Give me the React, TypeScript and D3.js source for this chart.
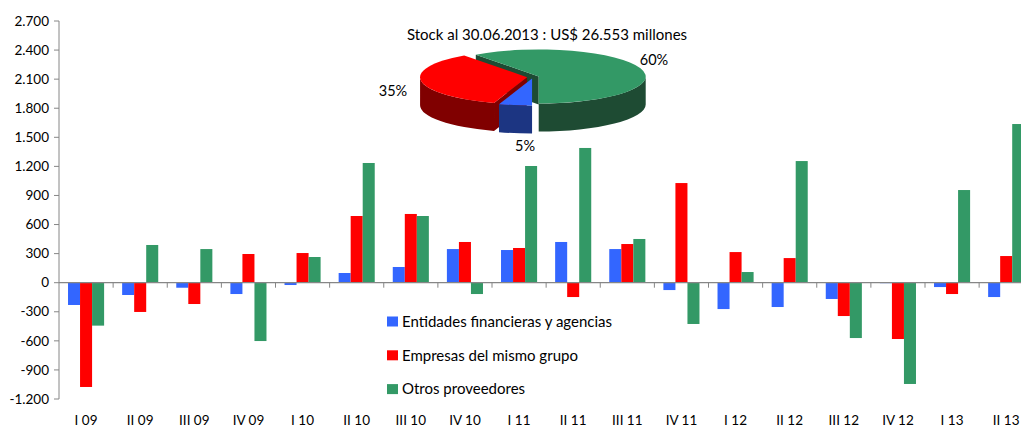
import React from "react";
import * as d3 from "d3";

const categories = ["I 09","II 09","III 09","IV 09","I 10","II 10","III 10","IV 10","I 11","II 11","III 11","IV 11","I 12","II 12","III 12","IV 12","I 13","II 13"];
const entidades = [-230,-127,-52,-117,-24,100,162,347,337,420,347,-76,-272,-251,-168,-5,-45,-148];
const empresas = [-1076,-302,-220,296,306,688,709,420,358,-148,399,1028,316,254,-344,-581,-117,275];
const otros = [-443,389,347,-602,265,1235,688,-117,1204,1390,451,-426,110,1255,-571,-1045,956,1637];
const seriesNames = ["Entidades financieras y agencias","Empresas del mismo grupo","Otros proveedores"];
const yTicks = [-1200,-900,-600,-300,0,300,600,900,1200,1500,1800,2100,2400,2700];
const pieTitle = "Stock al 30.06.2013 : US$ 26.553 millones";
const pieShares = [5,35,60];
const pieLabels = ["5%","35%","60%"];

const topColors = ["#3366FF","#FF0000","#339966"];
const sideColors = ["#1C3582","#800000","#1E4B33"];
const FONT = "Lato, 'Open Sans', sans-serif";
const FS = 13.5;
const FS_BIG = 15;

const W = 1021, H = 427;
const plotLeft = 59, plotTop = 21, plotBottom = 399;
const step = 54.125;

export default function App() {
  const seriesVals = [entidades, empresas, otros];
  const y = d3.scaleLinear().domain([-1200, 2700]).range([plotBottom, plotTop]);
  const pad = 1/3;
  const x = d3.scaleBand<string>().domain(categories)
    .range([plotLeft, plotLeft + step * categories.length])
    .paddingInner(pad).paddingOuter(pad/2);
  const xs = d3.scaleBand<number>().domain([0,1,2]).range([0, x.bandwidth()]);
  const locale = d3.formatLocale({decimal: ",", thousands: ".", grouping: [3], currency: ["",""], minus: "-"});
  const fmt = locale.format(",");
  const y0 = y(0);
  const axisColor = "#868686";

  // pie
  const cx = 533, cy = 77, rx = 107, ry = 27, depth = 28, explode = 6;
  const arcs = d3.pie<number>().sort(null).startAngle(Math.PI).endAngle(3*Math.PI)(pieShares);
  const slices = arcs.map((a, i) => {
    const m = (a.startAngle + a.endAngle) / 2;
    const ox = cx + explode * Math.sin(m);
    const oy = cy - explode * Math.cos(m) * (ry / rx);
    return { a0: a.startAngle, a1: a.endAngle, m, ox, oy, i };
  });
  const pt = (s: any, a: number, dz = 0) => [s.ox + rx * Math.sin(a), s.oy - ry * Math.cos(a) + dz];
  const topPath = (s: any) => {
    const p0 = pt(s, s.a0), p1 = pt(s, s.a1);
    const large = s.a1 - s.a0 > Math.PI ? 1 : 0;
    return `M${s.ox},${s.oy}L${p0[0]},${p0[1]}A${rx},${ry} 0 ${large} 1 ${p1[0]},${p1[1]}Z`;
  };
  const wallPaths: {d: string, i: number}[] = [];
  const facePaths: {d: string, i: number, z: number}[] = [];
  slices.forEach((s) => {
    for (const k of [0, 2*Math.PI]) {
      const st = Math.max(s.a0, Math.PI/2 + k), en = Math.min(s.a1, 3*Math.PI/2 + k);
      if (en > st) {
        const p0 = pt(s, st), p1 = pt(s, en), q1 = pt(s, en, depth), q0 = pt(s, st, depth);
        const large = en - st > Math.PI ? 1 : 0;
        wallPaths.push({ i: s.i, d: `M${p0[0]},${p0[1]}A${rx},${ry} 0 ${large} 1 ${p1[0]},${p1[1]}L${q1[0]},${q1[1]}A${rx},${ry} 0 ${large} 0 ${q0[0]},${q0[1]}Z` });
      }
    }
    const edges = [[s.a0, s.a0 - Math.PI/2],[s.a1, s.a1 + Math.PI/2]];
    edges.forEach(([ea, na]) => {
      if (Math.cos(na) < -1e-6) {
        const p = pt(s, ea);
        facePaths.push({ i: s.i, z: p[1], d: `M${s.ox},${s.oy}L${p[0]},${p[1]}L${p[0]},${p[1]+depth}L${s.ox},${s.oy+depth}Z` });
      }
    });
  });
  facePaths.sort((a, b) => a.z - b.z);
  const labelOffsets = [[-8, 69], [-140, 14], [121, -17]];

  return (
    <svg width={W} height={H} style={{position: "absolute", left: 0, top: 0, background: "#fff"}} fontFamily={FONT}>
      {/* y axis */}
      <line x1={plotLeft} x2={plotLeft} y1={plotTop} y2={plotBottom} stroke={axisColor} strokeWidth={1} />
      {yTicks.map((t) => (
        <g key={t}>
          <line x1={plotLeft - 5} x2={plotLeft} y1={y(t)} y2={y(t)} stroke={axisColor} />
          <text x={49} y={y(t)} dy="0.35em" textAnchor="end" fontSize={FS} fill="#000">{fmt(t)}</text>
        </g>
      ))}
      {/* bars */}
      {seriesVals.map((vals, si) => (
        <g key={si} fill={topColors[si]}>
          {vals.map((v, ci) => (
            <rect key={ci} x={(x(categories[ci]) as number) + (xs(si) as number)} width={xs.bandwidth()}
              y={Math.min(y(v), y0)} height={Math.abs(y(v) - y0)} />
          ))}
        </g>
      ))}
      {/* x axis */}
      <line x1={plotLeft} x2={plotLeft + step * categories.length} y1={y0} y2={y0} stroke={axisColor} strokeWidth={1.2} />
      {categories.map((c, ci) => (
        <g key={c}>
          <line x1={plotLeft + step * (ci + 1)} x2={plotLeft + step * (ci + 1)} y1={y0} y2={y0 + 5} stroke={axisColor} />
          <text x={(x(c) as number) + x.bandwidth()/2} y={425} textAnchor="middle" fontSize={FS} fill="#000">{c}</text>
        </g>
      ))}
      {/* legend */}
      {seriesNames.map((n, i) => (
        <g key={n} transform={`translate(387,${321.5 + i * 33.8})`}>
          <rect x={0} y={-5} width={11} height={10} fill={topColors[i]} />
          <text x={15} y={0} dy="0.35em" fontSize={FS_BIG} fill="#000">{n}</text>
        </g>
      ))}
      {/* pie */}
      <text x={547} y={35} dy="0.35em" textAnchor="middle" fontSize={FS_BIG} fill="#000">{pieTitle}</text>
      {facePaths.map((f, k) => <path key={"f"+k} d={f.d} fill={sideColors[f.i]} />)}
      {wallPaths.map((w, k) => <path key={"w"+k} d={w.d} fill={sideColors[w.i]} />)}
      {slices.map((s) => <path key={"t"+s.i} d={topPath(s)} fill={topColors[s.i]} />)}
      {slices.map((s) => (
        <text key={"l"+s.i} x={cx + labelOffsets[s.i][0]} y={cy + labelOffsets[s.i][1]} dy="0.35em" textAnchor="middle" fontSize={14.5} fill="#000">{pieLabels[s.i]}</text>
      ))}
    </svg>
  );
}
